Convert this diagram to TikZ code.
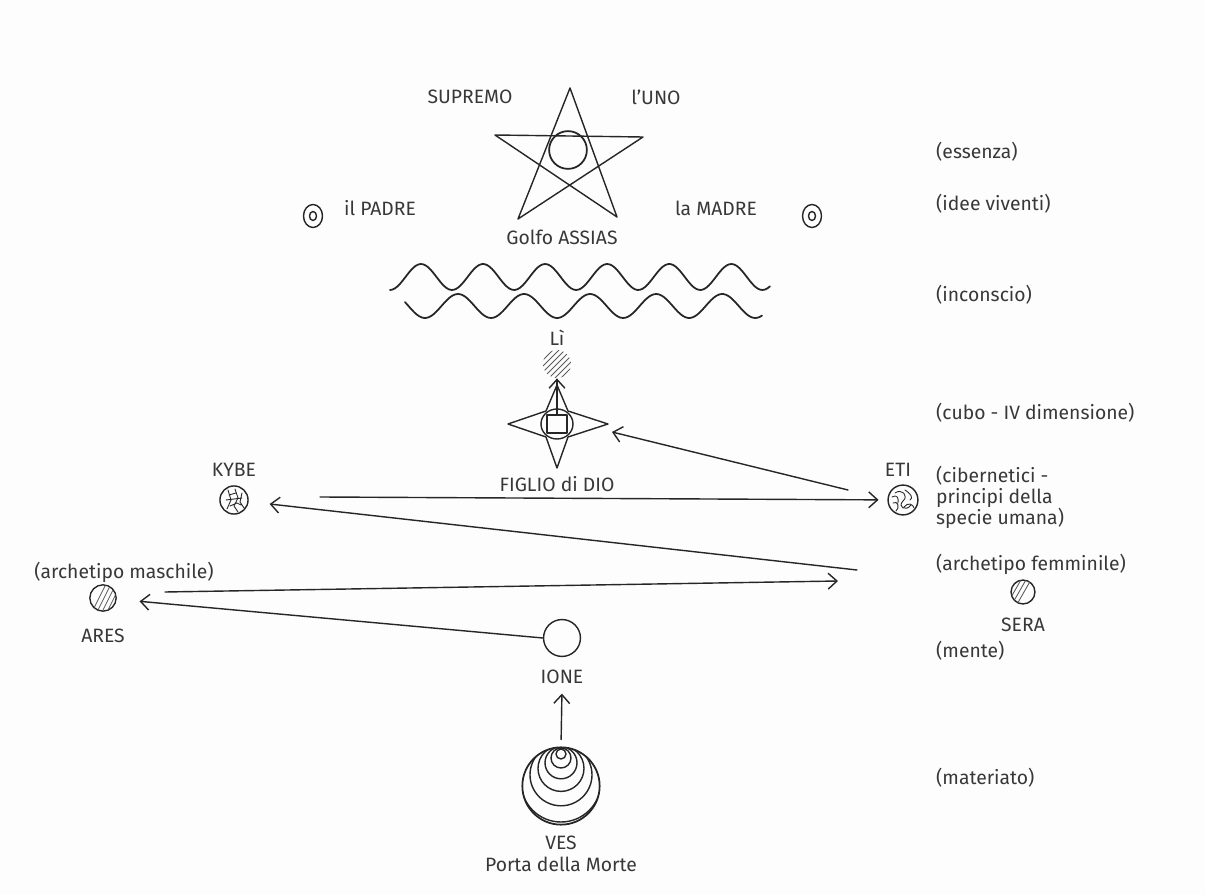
\documentclass[tikz,border=0pt]{standalone}
\usepackage{fontspec}
\setmainfont{Fira Sans}
\usetikzlibrary{arrows.meta}
\definecolor{Paper}{HTML}{FDFDFD}
\definecolor{Lead}{HTML}{262626}
\definecolor{Print}{HTML}{383838}

\begin{document}
\begin{tikzpicture}[x=0.02cm,y=-0.02cm,>={Straight Barb[length=5pt,width=9pt]},
  every node/.style={font=\fontsize{11}{13}\selectfont,text=Print},
  pen/.style={Lead,line width=0.8pt,line cap=round,line join=round},
  hatch/.style={Lead!75,line width=0.5pt},
  note/.style={anchor=west},
  body/.style={circle,draw=Lead,line width=0.8pt,inner sep=0pt,minimum size=#1}]
\fill[Paper] (0,0) rectangle (1205,895);
\useasboundingbox (0,0) rectangle (1205,895);

% levels on the right
\node[note] (essenza) at (930,152) {(essenza)};
\node[note] (idee) at (930,204) {(idee viventi)};
\node[note] (inconscio) at (930,295) {(inconscio)};
\node[note] (cubo) at (930,413) {(cubo - IV dimensione)};
\node[note,align=left,font=\fontsize{11}{12}\selectfont,anchor=north west] (ciber) at (930,460) {(cibernetici -\\principi della\\specie umana)};
\node[note] (femm) at (930,564) {(archetipo femminile)};
\node[note] (mente) at (930,651) {(mente)};
\node[note] (materia) at (930,778) {(materiato)};

% pentagram with the One
\node (supremo) at (470,97) {SUPREMO};
\node (uno) at (656,97) {l'UNO};
\draw[pen] (570,88)--(518,219)--(643,137)--(495,135)--(617,217)--cycle;
\node[body=21.5pt,line width=1pt] (unoC) at (568,150) {};
\node (golfo) at (562,237) {Golfo ASSIAS};

% father and mother
\draw[pen] (313,216) ellipse[x radius=9.5,y radius=11.5];
\draw[pen] (313,216) ellipse[x radius=3.5,y radius=4.5];
\node (padre) at (380,208) {il PADRE};
\node (madre) at (716,208) {la MADRE};
\draw[pen] (812,216) ellipse[x radius=9.5,y radius=11.5];
\draw[pen] (812,216) ellipse[x radius=3.5,y radius=4.5];

% the waters
\draw[pen,line width=1pt] plot[domain=390:770,samples=150] (\x,{277-13*cos(5.8*(\x-421))});
\draw[pen,line width=1pt] plot[domain=405:762,samples=150] (\x,{306-12*cos(5.45*(\x-458))});

% Li
\node (liName) at (557,338) {Lì};
\node[circle,minimum size=16pt,inner sep=0pt] (li) at (557,364) {};
\begin{scope}
\clip (557,364) circle[radius=14];
\foreach \k in {-36,-30,...,36} \draw[hatch] (557+\k-20,384) -- (557+\k+20,344);
\end{scope}

% son of god
\coordinate (figlio) at (557,424);
\draw[pen] (557,385)--(568,411)--(608,424)--(568,437)--(557,468)--(546,437)--(508,424)--(546,411)--cycle;
\draw[pen] (557,424) ellipse[x radius=16,y radius=15];
\draw[pen] (547,415) rectangle (567,433);
\node (figlioName) at (557,484) {FIGLIO di DIO};
\draw[pen,->] (557,414) -- (li);

% cybernetics
\node (kybeName) at (234,470) {KYBE};
\node[body=16pt] (kybe) at (234,500) {};
\draw[pen,line width=0.5pt] (228,490)--(231,500)--(227,509) (235,489)--(238,498)--(234,506)--(238,512) (242,493)--(240,502)--(244,508)
  (226,500)--(242,498) (229,495)--(236,493) (230,506)--(237,503)--(241,505);
\node (etiName) at (898,470) {ETI};
\node[body=17pt] (eti) at (903,500) {};
\draw[pen,line width=0.5pt] (895,493) .. controls (902,488) and (909,496) .. (903,501) .. controls (897,507) and (906,512) .. (911,505)
  (893,503) .. controls (898,500) and (900,508) .. (896,511) (905,490) .. controls (910,493) and (914,498) .. (910,500)
  (892,497) .. controls (897,494) and (899,498) .. (898,503) (904,507) .. controls (908,502) and (913,504) .. (914,508);

\coordinate (kybeTail) at (320,497);
\coordinate (femTail) at (857,570);
\coordinate (etiTail) at (848,490);
\coordinate (figR) at (612,432);
\draw[pen,->,shorten >=5pt] (kybeTail) -- (eti);
\draw[pen,->,shorten >=12pt] (femTail) -- (kybe);
\draw[pen,->] (etiTail) -- (figR);

% archetypes
\node (masch) at (124,572) {(archetipo maschile)};
\node[body=15pt] (ares) at (103,598) {};
\begin{scope}
\clip (103,598) circle[radius=13];
\foreach \k in {0,5,...,30} \draw[hatch] (103+\k-12,614) -- (103+\k+4,582);
\end{scope}
\node (aresName) at (103,636) {ARES};
\node[body=13.6pt] (sera) at (1023,592) {};
\begin{scope}
\clip (1023,592) circle[radius=12];
\foreach \k in {-28,-23,...,0} \draw[hatch] (1023+\k-4,606) -- (1023+\k+12,578);
\end{scope}
\node (seraName) at (1023,625) {SERA};

\coordinate (maschTail) at (165,592);
\coordinate (femHead) at (838,581);
\draw[pen,->] (maschTail) -- (femHead);

% mind and matter
\node[body=21pt] (ione) at (562,638) {};
\node (ioneName) at (562,677) {IONE};
\draw[pen,->,shorten >=13pt] (ione.west) -- (ares);
\node[body=44pt,line width=1pt] (ves) at (561,786) {};
\begin{scope}
\clip (561,786) circle[radius=39];
\foreach \r in {5,10,16,23,31,40,50} \draw[pen] (561,750+0.8*\r) circle[radius=\r];
\end{scope}
\node (vesName) at (561,843) {VES};
\node (porta) at (561,864) {Porta della Morte};
\draw[pen,->,shorten <=4pt,shorten >=2pt] (ves.north) -- (ioneName.south);
\end{tikzpicture}
\end{document}
